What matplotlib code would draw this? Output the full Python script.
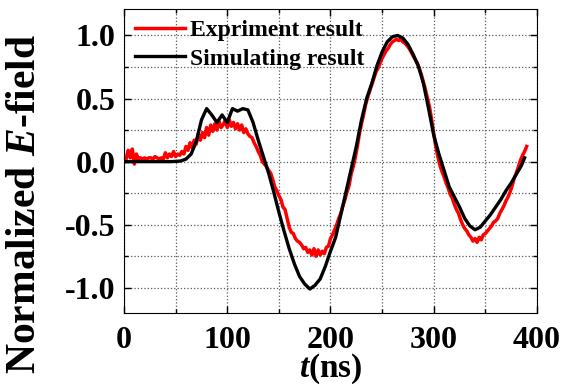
import matplotlib
matplotlib.use("Agg")
import matplotlib.pyplot as plt
from matplotlib.ticker import MultipleLocator
import numpy as np

plt.rcParams["font.family"] = ["Liberation Serif", "DejaVu Serif"]
plt.rcParams["font.weight"] = "bold"
plt.rcParams["mathtext.fontset"] = "custom"
plt.rcParams["mathtext.it"] = "Liberation Serif:italic:bold"
plt.rcParams["mathtext.rm"] = "Liberation Serif:bold"

# --- experiment (red), sampled every 2 ns from 0 to 390 ---
t_exp = np.arange(0, 392, 2)
v_exp = [
    0.03, 0.02, 0.09, 0.03, 0.10, -0.02, 0.06, 0.02, 0.03, 0.02,
    0.03, 0.02, 0.03, 0.03, 0.02, 0.04, 0.03, 0.02, 0.03, 0.02,
    0.07, 0.03, 0.06, 0.04, 0.08, 0.04, 0.06, 0.05, 0.08, 0.06,
    0.12, 0.09, 0.15, 0.11, 0.17, 0.14, 0.22, 0.17, 0.23, 0.19,
    0.27, 0.21, 0.29, 0.24, 0.30, 0.25, 0.32, 0.27, 0.29, 0.33,
    0.27, 0.33, 0.28, 0.31, 0.26, 0.30, 0.25, 0.29, 0.23, 0.26,
    0.22, 0.20, 0.19, 0.15, 0.12, 0.08, 0.05, 0.00, -0.02, -0.04,
    -0.07, -0.09, -0.14, -0.20, -0.23, -0.27, -0.30, -0.36, -0.38, -0.45,
    -0.52, -0.56, -0.57, -0.61, -0.63, -0.64, -0.66, -0.69, -0.68, -0.72,
    -0.70, -0.74, -0.69, -0.75, -0.70, -0.74, -0.71, -0.73, -0.68, -0.67,
    -0.61, -0.58, -0.54, -0.50, -0.45, -0.41, -0.35, -0.30, -0.24, -0.19,
    -0.10, -0.04, 0.03, 0.12, 0.22, 0.30, 0.37, 0.45, 0.51, 0.56,
    0.61, 0.66, 0.71, 0.74, 0.78, 0.82, 0.85, 0.88, 0.90, 0.93,
    0.95, 0.96, 0.97, 0.96, 0.97, 0.95, 0.94, 0.92, 0.90, 0.87,
    0.84, 0.81, 0.78, 0.74, 0.69, 0.63, 0.57, 0.50, 0.43, 0.33,
    0.22, 0.12, 0.04, -0.03, -0.08, -0.12, -0.17, -0.21, -0.26, -0.29,
    -0.34, -0.38, -0.41, -0.46, -0.50, -0.53, -0.55, -0.58, -0.60, -0.63,
    -0.61, -0.64, -0.60, -0.62, -0.58, -0.57, -0.55, -0.53, -0.51, -0.48,
    -0.47, -0.45, -0.41, -0.38, -0.35, -0.31, -0.28, -0.24, -0.19, -0.13,
    -0.09, -0.04, 0.01, 0.05, 0.08, 0.12,
]

# --- simulation (black), sampled every 5 ns ---
t_sim = list(range(0, 390, 5)) + [388]
v_sim = [
    0.0, 0.0, 0.0, 0.0, 0.0, 0.0, 0.0, 0.0, 0.0, 0.0,
    0.002, 0.005, 0.02, 0.06, 0.16, 0.33, 0.42, 0.37, 0.31, 0.37,
    0.31, 0.42, 0.40, 0.42, 0.41, 0.31, 0.17, 0.04, -0.09, -0.24,
    -0.40, -0.55, -0.69, -0.81, -0.91, -0.97, -1.01, -0.98, -0.93, -0.83,
    -0.71, -0.60, -0.42, -0.24, -0.06, 0.12, 0.33, 0.50, 0.62, 0.76,
    0.87, 0.95, 0.99, 1.00, 0.98, 0.93, 0.85, 0.76, 0.62, 0.42,
    0.21, 0.06, -0.07, -0.20, -0.28, -0.36, -0.45, -0.51, -0.54, -0.52,
    -0.47, -0.42, -0.36, -0.30, -0.23, -0.17, -0.10, -0.03, 0.03,
]

fig = plt.figure(figsize=(5.65, 3.9), dpi=100)
ax = fig.add_axes([0.2195, 0.1974, 0.7309, 0.7796])

ax.plot(t_exp, v_exp, color="#ff0000", lw=2.5, label="Expriment result")
ax.plot(t_sim, v_sim, color="black", lw=2.4, label="Simulating result")

ax.set_xlim(0, 400)
ax.set_ylim(-1.2, 1.21)
ax.xaxis.set_major_locator(MultipleLocator(100))
ax.xaxis.set_minor_locator(MultipleLocator(50))
ax.yaxis.set_major_locator(MultipleLocator(0.5))
ax.yaxis.set_minor_locator(MultipleLocator(0.25))
ax.tick_params(which="both", direction="in", top=True, right=True, width=1)
ax.tick_params(which="major", length=5, labelsize=23)
ax.tick_params(axis="x", which="major", pad=9)
ax.tick_params(axis="y", which="major", pad=6)
ax.tick_params(which="minor", length=3)
ax.yaxis.set_major_formatter(plt.FuncFormatter(lambda v, p: f"{v:.1f}"))
ax.grid(which="both", linestyle=":", color="0.35", lw=0.9)

ax.set_xlabel(r"$t$(ns)", fontsize=24, fontweight="bold", labelpad=-2)
ax.set_ylabel(r"Normalized $E$-field", fontsize=30, fontweight="bold",
              va="center", ha="center")
# label sits a bit below the axes centre, as in the original figure
ax.yaxis.set_label_coords(-0.24, 0.36)

ax.legend(loc="upper left", frameon=False, fontsize=17, handlelength=2.15,
          handletextpad=0.2, labelspacing=0.3, borderaxespad=0.1,
          borderpad=0.35)

fig.savefig("out.png", dpi=100, facecolor="white")
